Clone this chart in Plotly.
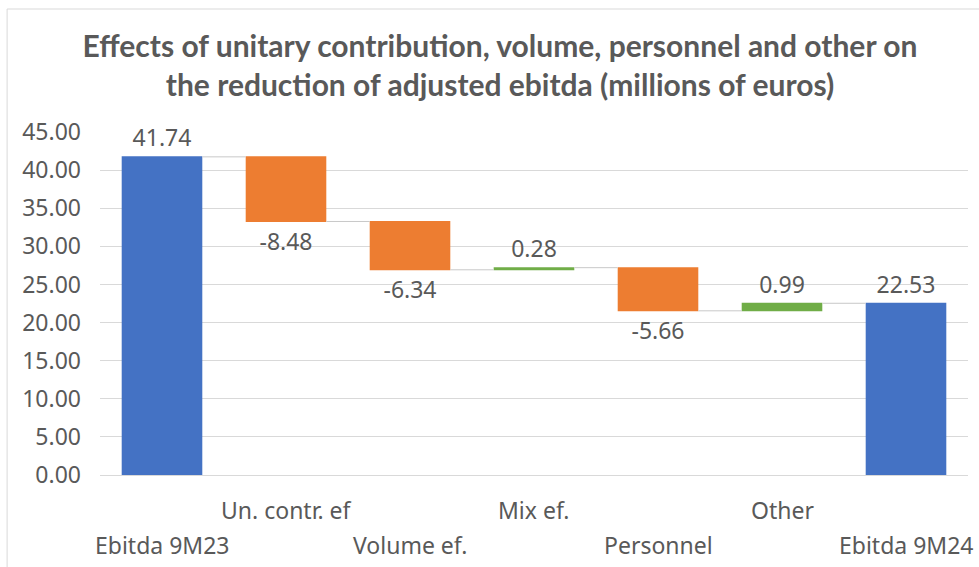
import plotly.graph_objects as go

categories = ["Ebitda 9M23", "Un. contr. ef", "Volume ef.", "Mix ef.", "Personnel", "Other", "Ebitda 9M24"]
values = [41.74, -8.48, -6.34, 0.28, -5.66, 0.99, 22.53]
measures = ["absolute", "relative", "relative", "relative", "relative", "relative", "total"]
y_ticks = [0, 5, 10, 15, 20, 25, 30, 35, 40, 45]

GREY = "#595959"
FONT = "Noto Sans"

fig = go.Figure()

fig.add_trace(go.Waterfall(
    x=categories,
    y=values,
    measure=measures,
    text=[f"{v:.2f}" for v in values],
    textposition="outside",
    textfont=dict(family=FONT, size=23, color=GREY),
    cliponaxis=False,
    increasing=dict(marker=dict(color="#70AD47")),
    decreasing=dict(marker=dict(color="#ED7D31")),
    totals=dict(marker=dict(color="#4472C4")),
    connector=dict(mode="between", line=dict(color="#c8c8c8", width=1)),
    showlegend=False,
    hoverinfo="skip",
))

# staggered category labels (Excel puts every other one on a second row)
for i, cat in enumerate(categories):
    fig.add_annotation(
        x=cat, y=0, xref="x", yref="y",
        text=cat, showarrow=False,
        yanchor="middle",
        yshift=-35 if i % 2 else -70,
        font=dict(family=FONT, size=23, color=GREY),
    )

# outer chart border (top and left edges visible in the screenshot)
fig.add_shape(type="rect", xref="paper", yref="paper",
              x0=-0.107, x1=1.2, y0=-0.6, y1=1.3586,
              line=dict(color="#d9d9d9", width=1), layer="below")

fig.update_layout(
    width=979,
    height=567,
    margin=dict(l=100, r=11, t=132, b=92),
    paper_bgcolor="white",
    plot_bgcolor="white",
    waterfallgap=0.35,
    title=dict(
        text="Effects of unitary contribution, volume, personnel and other on<br>the reduction of adjusted ebitda (millions of euros)",
        x=0.5107, xanchor="center", xref="container",
        y=0.900, yanchor="top", yref="container",
        font=dict(family="Lato", size=30, color=GREY, weight="bold"),
    ),
    xaxis=dict(showticklabels=False, showgrid=False, zeroline=False,
               showline=False, range=[-0.5, 6.5]),
    yaxis=dict(range=[0, 45], tickvals=y_ticks, tickformat=".2f",
               showgrid=True, gridcolor="#d9d9d9", gridwidth=1,
               zeroline=True, zerolinecolor="#d9d9d9", zerolinewidth=1,
               showline=False, ticks="", ticklabelstandoff=18,
               tickfont=dict(family=FONT, size=23, color=GREY)),
)

fig.write_html("out.html", config={"displayModeBar": False},
               post_script="document.body.style.margin='0';")
